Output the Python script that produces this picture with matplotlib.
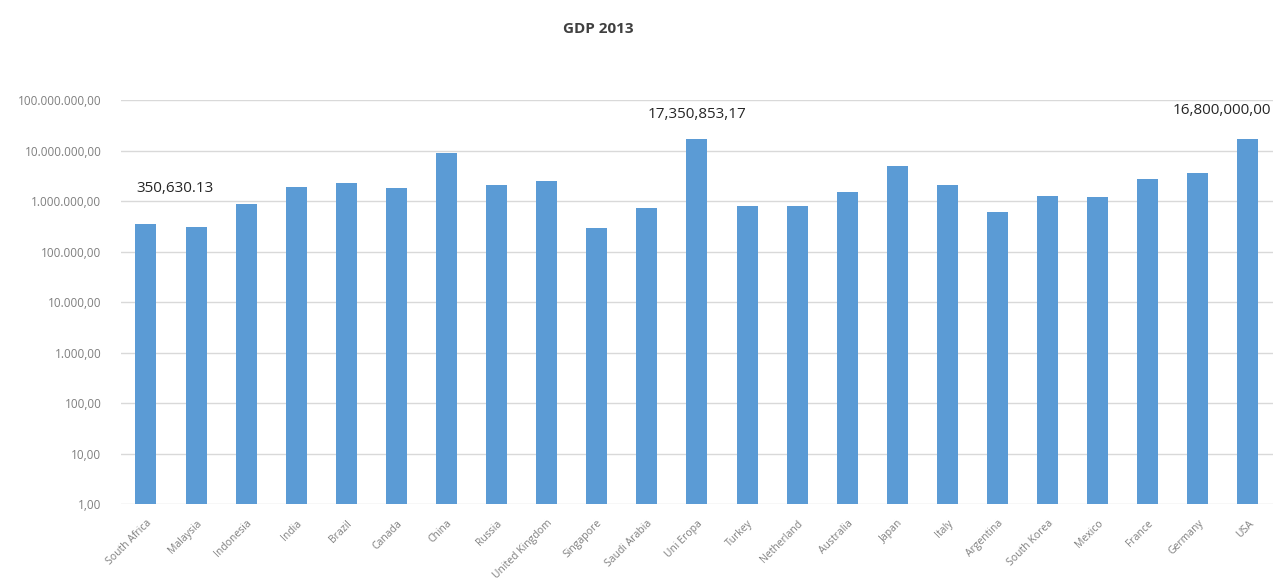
import matplotlib
matplotlib.use("Agg")
import matplotlib.pyplot as plt
from matplotlib.ticker import FuncFormatter, FixedLocator, NullLocator

countries = ["South Africa", "Malaysia", "Indonesia", "India", "Brazil", "Canada", "China",
             "Russia", "United Kingdom", "Singapore", "Saudi Arabia", "Uni Eropa", "Turkey",
             "Netherland", "Australia", "Japan", "Italy", "Argentina", "South Korea", "Mexico",
             "France", "Germany", "USA"]
gdp = [350630.13, 305000, 868000, 1870000, 2250000, 1830000, 9000000,
       2100000, 2500000, 290000, 720000, 17350853.17, 800000,
       800000, 1500000, 4900000, 2100000, 610000, 1260000, 1220000,
       2700000, 3600000, 16800000]
y_ticks = [1, 10, 100, 1000, 10000, 100000, 1000000, 10000000, 100000000]
labels = {0: "350,630.13", 11: "17,350,853,17", 22: "16,800,000,00"}
label_offsets = {0: (29, 36), 11: (0, 24), 22: (-26, 29)}

plt.rcParams['font.family'] = ['Open Sans', 'DejaVu Sans']
fig = plt.figure(figsize=(12.73, 5.82), dpi=100)
ax = fig.add_axes([0.095, 0.134, 0.905, 0.694])

x = list(range(len(countries)))
ax.bar(x, gdp, width=0.42, color="#5B9BD5", zorder=3)
ax.set_yscale("log")
ax.set_ylim(1, 1e8)
ax.set_xlim(-0.5, len(countries) - 0.5)

def fmt(v, pos):
    s = f"{v:,.2f}"
    return s.replace(",", "X").replace(".", ",").replace("X", ".")

ax.yaxis.set_major_locator(FixedLocator(y_ticks))
ax.yaxis.set_minor_locator(NullLocator())
ax.yaxis.set_major_formatter(FuncFormatter(fmt))
ax.grid(axis="y", color="#D9D9D9", linewidth=1, zorder=0)
for s in ax.spines.values():
    s.set_visible(False)
ax.tick_params(axis="y", length=0, pad=14, labelsize=8.5, labelcolor="#7F7F7F")
ax.tick_params(axis="x", length=0, pad=10, labelsize=7.5, labelcolor="#7F7F7F")
ax.set_xticks(x)
ax.set_xticklabels(countries, rotation=45, ha="right", rotation_mode="anchor")

for i, txt in labels.items():
    dx, dy = label_offsets[i]
    ax.annotate(txt, (x[i], gdp[i]), xytext=(dx, dy), textcoords="offset pixels",
                ha="center", va="center", fontsize=11, color="#262626",
                annotation_clip=False)

fig.text(0.47, 0.95, "GDP 2013", ha="center", va="center", fontsize=11,
         fontweight="bold", color="#404040")

fig.savefig("out.png", dpi=100)
